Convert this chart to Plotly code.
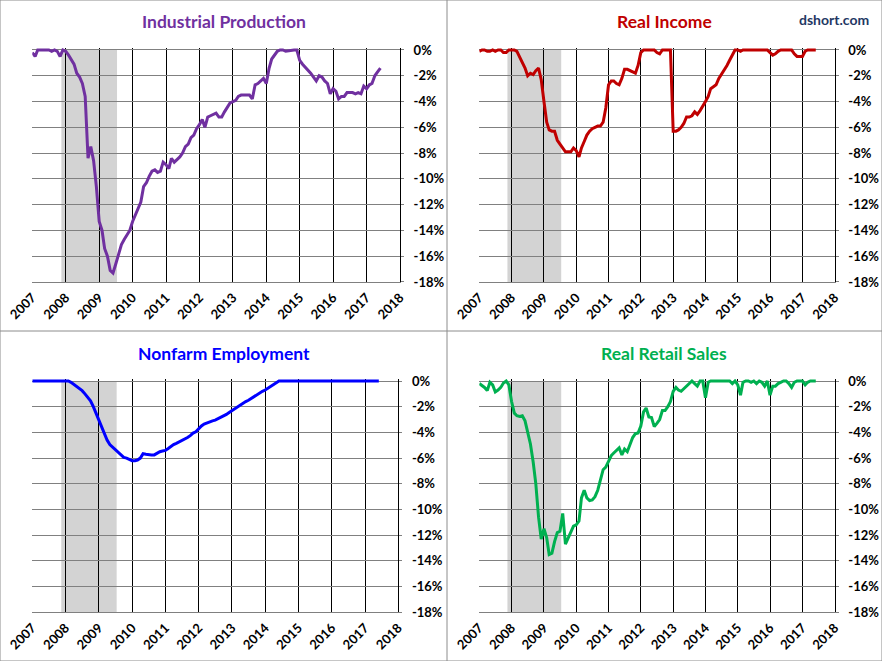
import pandas as pd
import plotly.graph_objects as go
from plotly.subplots import make_subplots

# monthly, Jan 2007 .. Jun 2017, % off previous peak
months = pd.date_range("2007-01-01", periods=126, freq="MS")

industrial_production = [
    -0.2, -0.5, 0, 0, 0, 0, 0, -0.1, 0, -0.1, -0.5, 0,
    -0.1, -0.4, -0.7, -1.1, -1.8, -2.1, -2.6, -3.6, -8.4, -7.5, -8.6, -10.6,
    -13.3, -14.0, -15.4, -16.0, -17.1, -17.3, -16.6, -15.8, -15.1, -14.7, -14.3, -14.0,
    -13.3, -12.8, -12.4, -11.8, -10.6, -10.3, -9.8, -9.4, -9.3, -9.5, -9.4, -8.7,
    -8.9, -9.2, -8.4, -8.7, -8.5, -8.3, -8.0, -7.5, -7.3, -6.8, -6.6, -6.1,
    -5.8, -5.4, -6.0, -5.2, -5.1, -5.0, -4.9, -5.2, -5.2, -4.8, -4.4, -4.1,
    -4.0, -3.9, -3.6, -3.5, -3.5, -3.5, -3.5, -3.8, -2.7, -2.6, -2.4, -2.2,
    -2.6, -1.4, -0.7, -0.4, -0.1, 0, 0, -0.1, -0.05, 0, 0, 0,
    -0.8, -1.1, -1.3, -1.6, -1.8, -2.1, -2.4, -2.0, -2.1, -2.4, -2.6, -3.4,
    -3.0, -3.2, -3.8, -3.6, -3.6, -3.3, -3.3, -3.3, -3.4, -3.3, -3.4, -2.8,
    -3.0, -2.7, -2.6, -2.0, -1.7, -1.4,
]

real_income = [
    -0.1, 0, 0, -0.1, -0.1, 0, -0.1, 0, 0, -0.2, -0.2, 0,
    0, 0, -0.1, -0.5, -1.0, -1.4, -2.0, -1.8, -1.9, -1.6, -1.4, -2.3,
    -4.0, -5.6, -6.2, -6.3, -6.3, -7.0, -7.3, -7.6, -7.9, -7.9, -7.9, -7.6,
    -7.8, -8.3, -7.6, -7.1, -6.6, -6.3, -6.1, -6.0, -5.9, -5.9, -5.6, -4.5,
    -2.7, -2.4, -2.4, -2.6, -2.7, -2.2, -1.5, -1.5, -1.6, -1.7, -1.8, -1.2,
    -0.2, 0, 0, 0, 0, 0, -0.2, -0.3, 0, 0, 0, 0,
    -6.3, -6.3, -6.2, -6.0, -5.7, -5.2, -5.2, -5.1, -4.8, -5.0, -4.7, -4.4,
    -4.0, -3.6, -3.0, -2.85, -2.7, -2.2, -1.9, -1.5, -1.2, -0.8, -0.4, 0,
    0, -0.1, 0, 0, 0, 0, 0, 0, 0, 0, 0, 0,
    -0.2, -0.4, -0.3, -0.1, 0, 0, 0, 0, 0, -0.3, -0.5, -0.5,
    -0.5, -0.1, 0, 0, 0, 0,
]

nonfarm_employment = [
    0, 0, 0, 0, 0, 0, 0, 0, 0, 0, 0, 0,
    0, 0, -0.1, -0.25, -0.4, -0.55, -0.75, -1.0, -1.25, -1.55, -2.0, -2.5,
    -3.1, -3.6, -4.1, -4.6, -4.95, -5.15, -5.35, -5.55, -5.75, -5.95, -6.0, -6.1,
    -6.2, -6.2, -6.15, -6.0, -5.65, -5.7, -5.75, -5.75, -5.75, -5.6, -5.5, -5.45,
    -5.4, -5.25, -5.1, -4.95, -4.85, -4.75, -4.65, -4.55, -4.4, -4.25, -4.05, -3.95,
    -3.7, -3.5, -3.35, -3.25, -3.2, -3.1, -3.05, -2.95, -2.85, -2.7, -2.6, -2.45,
    -2.3, -2.15, -2.05, -1.9, -1.75, -1.6, -1.5, -1.35, -1.2, -1.05, -0.9, -0.8,
    -0.7, -0.55, -0.4, -0.25, -0.08, 0, 0, 0, 0, 0, 0, 0,
    0, 0, 0, 0, 0, 0, 0, 0, 0, 0, 0, 0,
    0, 0, 0, 0, 0, 0, 0, 0, 0, 0, 0, 0,
    0, 0, 0, 0, 0, 0,
]

real_retail_sales = [
    -0.2, -0.35, -0.5, -0.75, -0.1, -0.3, -0.85, -0.7, -0.5, -0.15, 0, -0.3,
    -1.6, -2.5, -2.7, -2.75, -2.7, -3.1, -4.0, -4.9, -6.3, -8.0, -10.6, -12.3,
    -11.5, -12.2, -13.5, -13.4, -12.5, -11.8, -11.7, -10.3, -12.7, -12.2, -11.7, -11.3,
    -11.2, -10.9, -9.1, -8.5, -9.1, -9.3, -9.25, -9.0, -8.5, -7.8, -6.9, -6.7,
    -6.2, -5.8, -5.6, -5.4, -5.2, -5.75, -5.3, -5.5, -4.9, -4.4, -4.1, -4.05,
    -3.5, -2.4, -2.1, -2.8, -2.85, -3.55, -3.3, -3.0, -2.3, -2.3, -2.0, -1.6,
    -0.8, -0.5, -0.7, -0.8, -0.6, -0.4, -0.2, 0, -0.2, -0.4, 0, 0,
    -1.3, -0.1, 0, 0, 0, 0, 0, 0, 0, 0, -0.2, 0,
    -0.3, -1.1, -0.1, 0, 0, -0.1, 0, -0.2, 0, -0.1, -0.4, 0,
    -1.1, -0.4, -0.4, -0.2, -0.1, 0, 0, -0.2, -0.5, -0.1, 0, 0,
    0, -0.3, -0.1, 0, 0, 0,
]

years = list(range(2007, 2019))
pct_ticks = list(range(0, -20, -2))
recession = ("2007-11-15", "2009-07-15")

panels = [
    ("Industrial Production", industrial_production, "#7030A0", 1, 1),
    ("Real Income", real_income, "#C00000", 1, 2),
    ("Nonfarm Employment", nonfarm_employment, "#0000FF", 2, 1),
    ("Real Retail Sales", real_retail_sales, "#00B050", 2, 2),
]

# plot areas in pixels (left, right, top of 0%, bottom) for an 882x661 page
W, H = 882, 661
boxes = {
    (1, 1): (32.3, 400.0, 50.0, 282.0),
    (1, 2): (479.3, 834.7, 50.0, 282.0),
    (2, 1): (32.3, 398.3, 381.0, 612.3),
    (2, 2): (479.3, 834.7, 381.0, 612.3),
}
TOP_PAD = 0.15  # % above zero so the line at 0 is not clipped

fig = make_subplots(rows=2, cols=2)
font = "Lato"

for title, values, color, r, c in panels:
    fig.add_trace(go.Scatter(x=months, y=values, mode="lines",
                             line=dict(color=color, width=3),
                             showlegend=False), row=r, col=c)

    left, right, top, bottom = boxes[(r, c)]
    px_per_pct = (bottom - top) / 18
    dom_top = top - TOP_PAD * px_per_pct
    fig.update_xaxes(
        domain=[left / W, right / W],
        range=["2007-01-01", "2018-01-01"],
        tickvals=[f"{y}-01-01" for y in years],
        ticktext=[str(y) for y in years],
        tickangle=-45,
        tickfont=dict(family=font, size=13, color="black", weight="bold"),
        ticklabelstandoff=2,
        showgrid=True, gridcolor="black", gridwidth=1,
        showline=True, linecolor="#808080", linewidth=1,
        ticks="", zeroline=False, automargin=False,
        row=r, col=c)
    fig.update_yaxes(
        domain=[1 - bottom / H, 1 - dom_top / H],
        range=[-18, TOP_PAD],
        side="right",
        tickvals=pct_ticks,
        ticktext=[f"{v}%" for v in pct_ticks],
        tickfont=dict(family=font, size=13, color="black", weight="bold"),
        ticks="outside", ticklen=3, tickcolor="#808080",
        ticklabelstandoff=7,
        showgrid=True, gridcolor="#808080", gridwidth=1,
        showline=True, linecolor="black", linewidth=1,
        zeroline=False, automargin=False,
        row=r, col=c)

    # recession band
    fig.add_shape(type="rect", x0=recession[0], x1=recession[1],
                  y0=-18, y1=0, fillcolor="#D3D3D3", line_width=0,
                  layer="below", row=r, col=c)

    fig.add_annotation(text=f"<b>{title}</b>", xref="paper", yref="paper",
                       x=224 / W if c == 1 else 664 / W,
                       y=1 - (top - 28) / H, showarrow=False,
                       xanchor="center", yanchor="middle",
                       font=dict(family=font, size=17.5, color=color))

fig.add_annotation(text="<b>dshort.com</b>", xref="paper", yref="paper",
                   x=834 / W, y=1 - 20 / H, showarrow=False,
                   xanchor="center", yanchor="middle",
                   font=dict(family=font, size=14, color="#1F3864"))

# chart frames
frame = dict(color="#8C8C8C", width=1)
fig.add_shape(type="rect", xref="paper", yref="paper", x0=0, x1=1, y0=0, y1=1, line=frame)
fig.add_shape(type="line", xref="paper", yref="paper", x0=447 / W, x1=447 / W, y0=0, y1=1, line=frame)
fig.add_shape(type="line", xref="paper", yref="paper", x0=0, x1=1, y0=1 - 331 / H, y1=1 - 331 / H, line=frame)

fig.update_layout(
    width=W, height=H,
    margin=dict(l=0, r=0, t=0, b=0, autoexpand=False),
    paper_bgcolor="white", plot_bgcolor="white",
    font=dict(family=font),
)

# drop the browser's default body margin so the chart sits at the page corner
fig.write_html("out.html", config={"displayModeBar": False},
               post_script="document.body.style.margin='0';")
